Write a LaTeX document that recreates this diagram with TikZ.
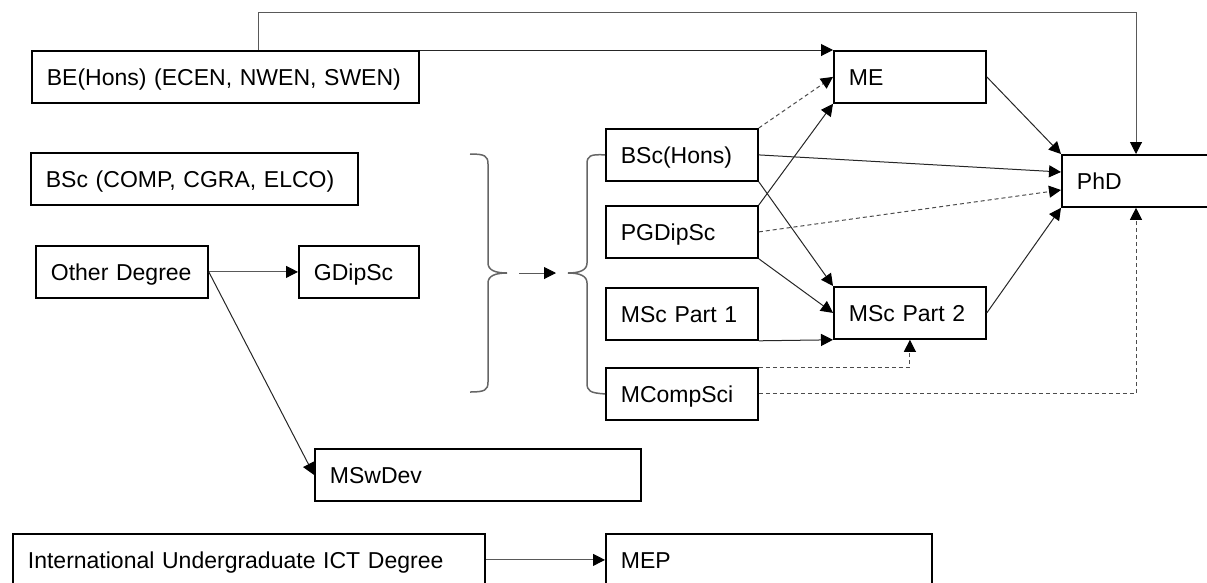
\documentclass[tikz,border=0pt]{standalone}
\usepackage{fontspec}
\setmainfont{Liberation Sans}
\usetikzlibrary{arrows.meta}
\tikzset{>={Triangle[length=12pt,width=12pt,fill=black,color=black]}}
\tikzset{
  degree/.style={draw, line width=1.8pt, anchor=north west, minimum height=52pt,
    inner xsep=15pt, inner ysep=0pt, text width=#1, align=left,
    font=\fontsize{23}{28}\selectfont, text height=16.5pt, text depth=0pt},
  link/.style={->, line width=1pt, black!85},
  optional/.style={link, black!70, dash pattern=on 4pt off 3pt},
  group/.style={line width=1.5pt, black!60}
}

\begin{document}
\begin{tikzpicture}[x=1pt, y=-1pt]
    \useasboundingbox (0,0) rectangle (1207,582);
    \clip (0,0) rectangle (1207,582);
    % entry degrees
    \node[degree=357pt] (be) at (31,50) {BE(Hons) (ECEN, NWEN, SWEN)};
    \node[degree=297pt] (bsc) at (30,152) {BSc (COMP, CGRA, ELCO)};
    \node[degree=142pt] (other) at (35,245) {Other Degree};
    \node[degree=90pt] (gdip) at (298,245) {GDipSc};
    \node[degree=296pt] (mswdev) at (314,448) {MSwDev};
    \node[degree=442pt] (intl) at (12,533) {International Undergraduate ICT Degree};
    \node[degree=296pt] (mep) at (605,533) {MEP};
    % postgraduate
    \node[degree=122pt] (bsch) at (605,128) {BSc(Hons)};
    \node[degree=122pt] (pgdip) at (605,205) {PGDipSc};
    \node[degree=122pt] (msc1) at (605,287) {MSc Part 1};
    \node[degree=122pt] (mcomp) at (605,367) {MCompSci};
    \node[degree=122pt] (me) at (833,50) {ME};
    \node[degree=122pt] (msc2) at (833,286) {MSc Part 2};
    \node[degree=130pt] (phd) at (1061,154) {PhD};
    \coordinate (lbtip) at (507,273);
    \coordinate (rbtip) at (568,273);
    % braces
    \draw[group] (470,154) .. controls (485,154) and (488,156) .. (488,164) -- (488,263)
        .. controls (488,270) and (495,273) .. (lbtip) .. controls (495,273) and (488,276) .. (488,283)
        -- (488,382) .. controls (488,390) and (485,392) .. (470,392);
    \draw[group] (bsch.west) .. controls (590,154) and (587,156) .. (587,164) -- (587,263)
        .. controls (587,270) and (580,273) .. (rbtip) .. controls (580,273) and (587,276) .. (587,283)
        -- (587,383) .. controls (587,391) and (590,393) .. (mcomp.west);
    \draw[link, black!65, shorten <=12pt, shorten >=12pt] (lbtip) -- (rbtip);
    % connectors
    \draw[link, black!65] ([xshift=227pt]be.north west) -- ++(0,-38) -| ([xshift=75pt]phd.north west);
    \draw[link] (be.north east) -- (me.north west);
    \draw[optional] (bsch.north east) -- (me.west);
    \draw[link] (pgdip.north east) -- (me.south west);
    \draw[link] (me.east) -- (phd.north west);
    \draw[link] (bsch.east) -- ([yshift=-18pt]phd.north west);
    \draw[optional] (pgdip.east) -- ([yshift=-36pt]phd.north west);
    \draw[link] (msc2.east) -- (phd.south west);
    \draw[link] (bsch.south east) -- (msc2.north west);
    \draw[link] (pgdip.south east) -- (msc2.west);
    \draw[link] (msc1.south east) -- (msc2.south west);
    \draw[optional] (mcomp.north east) -| (msc2.south);
    \draw[optional] (mcomp.east) -| ([xshift=75pt]phd.south west);
    \draw[link, black!65] (other.east) -- (gdip.west);
    \draw[link] (other.east) -- (mswdev.west);
    \draw[link, black!65] (intl.east) -- (mep.west);
\end{tikzpicture}
\end{document}
